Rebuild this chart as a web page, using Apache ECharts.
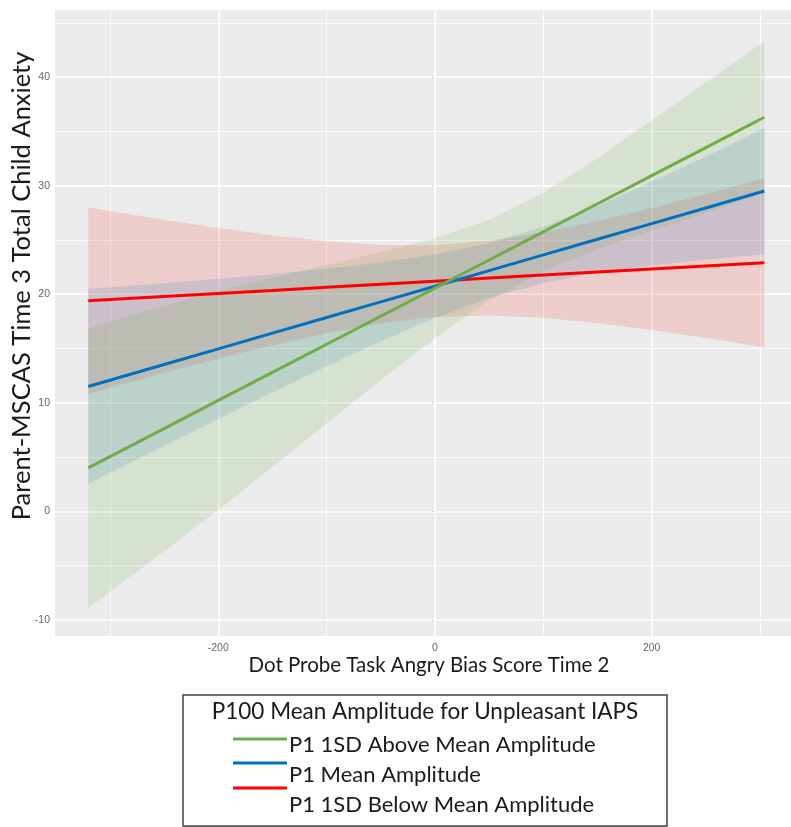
<!DOCTYPE html>
<html><head><meta charset="utf-8">
<script src="https://cdn.jsdelivr.net/npm/echarts@6/dist/echarts.min.js"></script>
<style>html,body{margin:0;padding:0;background:#fff}#c{width:791px;height:827px}</style>
</head><body><div id="c"></div>
<script>
// x positions along the fitted lines (Dot Probe Task Angry Bias Score Time 2)
const xs = [-320, -250, -200, -150, -100, -50, 0, 50, 100, 150, 200, 250, 304];

const seriesNames = ['P1 1SD Above Mean Amplitude', 'P1 Mean Amplitude', 'P1 1SD Below Mean Amplitude'];
const legendTitle = 'P100 Mean Amplitude for Unpleasant IAPS';
const xTitle = 'Dot Probe Task Angry Bias Score Time 2';
const yTitle = 'Parent-MSCAS Time 3 Total Child Anxiety';

// Green: P1 1SD above mean
const greenFit   = [4.00, 7.62, 10.21, 12.80, 15.39, 17.97, 20.56, 23.15, 25.74, 28.33, 30.92, 33.50, 36.30];
const greenUpper = [16.90, 18.92, 20.31, 21.50, 22.69, 23.87, 25.16, 26.85, 29.34, 32.53, 36.02, 39.50, 43.30];
const greenLower = [-8.90, -3.68, 0.11, 4.10, 8.09, 12.07, 15.96, 19.45, 22.14, 24.13, 25.82, 27.50, 29.30];
// Blue: P1 mean
const blueFit   = [11.50, 13.52, 14.96, 16.41, 17.85, 19.29, 20.73, 22.17, 23.62, 25.06, 26.50, 27.94, 29.50];
const blueUpper = [20.47, 21.01, 21.41, 21.86, 22.34, 22.91, 23.65, 24.70, 26.22, 28.15, 30.35, 32.69, 35.31];
const blueLower = [2.53, 6.03, 8.51, 10.96, 13.36, 15.67, 17.81, 19.64, 21.02, 21.97, 22.65, 23.19, 23.69];
// Red: P1 1SD below mean
const redFit   = [19.40, 19.79, 20.07, 20.35, 20.64, 20.92, 21.20, 21.48, 21.76, 22.04, 22.32, 22.60, 22.90];
const redUpper = [27.98, 26.85, 26.09, 25.41, 24.87, 24.52, 24.51, 24.92, 25.70, 26.75, 27.95, 29.24, 30.69];
const redLower = [10.82, 12.73, 14.05, 15.29, 16.41, 17.32, 17.89, 18.04, 17.82, 17.33, 16.69, 15.96, 15.11];

const xTicks = [-200, 0, 200];
const xMinor = [-300, -100, 100, 300];
const yTicks = [-10, 0, 10, 20, 30, 40];
const yMinor = [-5, 5, 15, 25, 35, 45];

const lineColors = ['#70AD47', '#0070C0', '#FF0000'];
const bandColors = ['rgba(112,173,71,0.16)', 'rgba(0,112,192,0.14)', 'rgba(255,0,0,0.13)'];

const chart = echarts.init(document.getElementById('c'), null, {renderer: 'canvas'});

function band(name, lower, upper, color) {
  return {
    type: 'custom', name: name + ' CI', silent: true, z: 2, animation: false,
    data: xs.map((x, i) => [x, lower[i], upper[i]]),
    encode: {x: 0, y: [1, 2]},
    renderItem: function (params, api) {
      if (params.dataIndex !== 0) return null;
      const pts = [];
      for (let i = 0; i < xs.length; i++) pts.push(api.coord([xs[i], upper[i]]));
      for (let i = xs.length - 1; i >= 0; i--) pts.push(api.coord([xs[i], lower[i]]));
      return {type: 'polygon', shape: {points: pts}, style: {fill: color}};
    }
  };
}
function fitLine(name, fit, color) {
  return {
    type: 'line', name: name, z: 3, showSymbol: false, silent: true, animation: false,
    data: xs.map((x, i) => [x, fit[i]]),
    lineStyle: {color: color, width: 3}, itemStyle: {color: color}
  };
}
function gridLines() {
  const d = [];
  xTicks.forEach(v => d.push({xAxis: v, lineStyle: {width: 1.6}}));
  xMinor.forEach(v => d.push({xAxis: v, lineStyle: {width: 0.8}}));
  yTicks.forEach(v => d.push({yAxis: v, lineStyle: {width: 1.6}}));
  yMinor.forEach(v => d.push({yAxis: v, lineStyle: {width: 0.8}}));
  return {
    type: 'line', name: 'grid', data: [], silent: true, animation: false,
    markLine: {z: 1, silent: true, symbol: ['none', 'none'], label: {show: false}, animation: false,
      lineStyle: {color: '#FFFFFF', type: 'solid'}, data: d}
  };
}

const fitAll = [greenFit, blueFit, redFit];
const lowAll = [greenLower, blueLower, redLower];
const upAll = [greenUpper, blueUpper, redUpper];

const series = [gridLines()];
[2, 1, 0].forEach(i => series.push(band(seriesNames[i], lowAll[i], upAll[i], bandColors[i])));
[2, 1, 0].forEach(i => series.push(fitLine(seriesNames[i], fitAll[i], lineColors[i])));

const font = 'Lato, "Open Sans", sans-serif';
const legendItems = [];
const itemLineY = [739, 763, 788];
const itemTextY = [745, 775, 805];
seriesNames.forEach((n, i) => {
  legendItems.push({type: 'line', shape: {x1: 233, y1: itemLineY[i], x2: 287, y2: itemLineY[i]},
    style: {stroke: lineColors[i], lineWidth: 3}});
  legendItems.push({type: 'text', x: 289, y: itemTextY[i],
    style: {text: n, font: '22px ' + font, fill: '#1a1a1a', textVerticalAlign: 'middle', textAlign: 'left'}});
});

chart.setOption({
  animation: false,
  backgroundColor: '#FFFFFF',
  grid: {left: 55, top: 10, right: 0, bottom: 191, show: true, backgroundColor: '#EBEBEB', borderWidth: 0, containLabel: false},
  xAxis: {
    type: 'value', min: -350.7, max: 328.6,
    splitLine: {show: false}, axisLine: {show: false},
    axisTick: {show: true, customValues: xTicks, length: 3, lineStyle: {color: '#555'}},
    axisLabel: {customValues: xTicks, color: '#666', fontSize: 10.5, margin: 7, fontFamily: 'Liberation Sans'}
  },
  yAxis: {
    type: 'value', min: -11.49, max: 46.18,
    splitLine: {show: false}, axisLine: {show: false},
    axisTick: {show: true, customValues: yTicks, length: 3, lineStyle: {color: '#555'}},
    axisLabel: {customValues: yTicks, color: '#666', fontSize: 10.5, margin: 5, fontFamily: 'Liberation Sans'}
  },
  series: series,
  graphic: [
    {type: 'text', x: 429, y: 665, style: {text: xTitle, font: '20.5px ' + font, fill: '#1a1a1a', textAlign: 'center', textVerticalAlign: 'middle'}},
    {type: 'text', x: 22, y: 286, rotation: Math.PI / 2, style: {text: yTitle, font: '25.5px ' + font, fill: '#1a1a1a', textAlign: 'center', textVerticalAlign: 'middle'}},
    {type: 'rect', shape: {x: 183, y: 695, width: 484, height: 131}, style: {fill: 'none', stroke: '#404040', lineWidth: 1.5}},
    {type: 'text', x: 425, y: 712, style: {text: legendTitle, font: '22.5px ' + font, fill: '#1a1a1a', textAlign: 'center', textVerticalAlign: 'middle'}},
    ...legendItems
  ]
});
</script>
</body></html>
